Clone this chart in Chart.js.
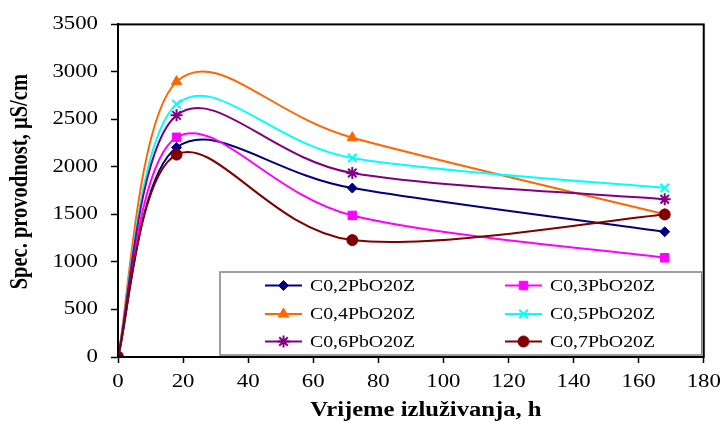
<!DOCTYPE html>
<html>
<head>
<meta charset="utf-8">
<script src="https://cdn.jsdelivr.net/npm/chart.js@4"></script>
<style>
  html, body { margin: 0; padding: 0; background: #fff; }
  #wrap { width: 726px; height: 423px; }
</style>
</head>
<body>
<div id="wrap"><canvas id="chart" width="726" height="423"></canvas></div>
<script>
const hours = [0, 18, 72, 168];
const xTicks = [0, 20, 40, 60, 80, 100, 120, 140, 160, 180];
const yTicks = [0, 500, 1000, 1500, 2000, 2500, 3000, 3500];

const seriesNames = ["C0,2PbO20Z", "C0,3PbO20Z", "C0,4PbO20Z", "C0,5PbO20Z", "C0,6PbO20Z", "C0,7PbO20Z"];
const c02 = [0, 2205, 1778, 1318];
const c03 = [0, 2312, 1490, 1044];
const c04 = [0, 2898, 2308, 1502];
const c05 = [0, 2660, 2095, 1778];
const c06 = [0, 2543, 1936, 1660];
const c07 = [0, 2130, 1230, 1500];

const xTitle = "Vrijeme izluživanja, h";
const yTitle = "Spec. provodnost, µS/cm";

const seriesValues = [c02, c03, c04, c05, c06, c07];
const colors = ["#000080", "#FF00FF", "#FF6600", "#00FFFF", "#800080", "#800000"];
const markers = ["rectRot", "rect", "triangle", "crossRot", "star", "circle"];
const markerSize = [5, 6, 6, 6, 6, 5.5];

const serif = "'Liberation Serif', 'Times New Roman', serif";
const textStretch = 1.2; // the source picture is a bit wider than tall

const datasets = seriesValues.map((vals, i) => ({
  label: seriesNames[i],
  data: vals.map((v, j) => ({ x: hours[j], y: v })),
  borderColor: colors[i],
  backgroundColor: colors[i],
  borderWidth: 2,
  pointStyle: markers[i],
  pointRadius: markerSize[i],
  pointBorderWidth: markers[i] === "crossRot" || markers[i] === "star" ? 2 : 1,
  pointBorderColor: colors[i],
  pointBackgroundColor: colors[i],
  tension: 0.4,
  order: 5 - i
}));

// Excel style smoothing: control points at 1/6 of the neighbour span
const excelSmooth = {
  id: "excelSmooth",
  beforeDatasetDraw(chart, args) {
    const meta = args.meta;
    const pts = meta.data;
    meta.dataset.updateControlPoints(chart.chartArea, "x");
    pts.forEach((p, i) => {
      const prev = pts[i - 1] || p;
      const next = pts[i + 1] || p;
      const dx = (next.x - prev.x) / 6;
      const dy = (next.y - prev.y) / 6;
      p.cp1x = p.x - dx; p.cp1y = p.y - dy;
      p.cp2x = p.x + dx; p.cp2y = p.y + dy;
    });
  }
};

// widen all text a little around its anchor
const stretchText = {
  id: "stretchText",
  beforeDraw(chart) {
    const ctx = chart.ctx;
    if (ctx._stretched) return;
    ctx._stretched = true;
    const orig = ctx.fillText.bind(ctx);
    ctx.fillText = function (text, x, y, maxWidth) {
      const m = ctx.getTransform();
      const p = m.transformPoint(new DOMPoint(x, y));
      ctx.save();
      ctx.setTransform(new DOMMatrix().translate(p.x, p.y).scale(textStretch, 1).translate(-p.x, -p.y).multiply(m));
      if (maxWidth === undefined) orig(text, x, y);
      else orig(text, x, y, maxWidth);
      ctx.restore();
    };
  }
};

// frame around the plot area + the two axis titles
const frame = {
  id: "frame",
  afterDraw(chart) {
    const a = chart.chartArea;
    const c = chart.ctx;
    c.save();
    c.strokeStyle = "#000";
    c.lineWidth = 2;
    c.strokeRect(a.left, a.top, a.right - a.left, a.bottom - a.top);

    c.fillStyle = "#000";
    c.font = "bold 20.5px " + serif;
    c.textAlign = "center";
    c.textBaseline = "middle";
    c.fillText(xTitle, (a.left + a.right) / 2 + 15, a.bottom + 54);
    c.translate(21, (a.top + a.bottom) / 2 - 9);
    c.rotate(-Math.PI / 2);
    c.fillText(yTitle, 0, 0);
    c.restore();
  }
};

// legend box in the lower right of the plot, line + marker samples
const boxLegend = {
  id: "boxLegend",
  afterDraw(chart) {
    const a = chart.chartArea;
    const c = chart.ctx;
    const left = a.left + 102, right = a.right - 2;
    const top = a.bottom - 85, bottom = a.bottom - 2;
    c.save();
    c.fillStyle = "#fff";
    c.fillRect(left, top, right - left, bottom - top);
    c.strokeStyle = "#808080";
    c.lineWidth = 1.5;
    c.strokeRect(left, top, right - left, bottom - top);
    c.font = "16.5px " + serif;
    c.textBaseline = "middle";
    c.textAlign = "left";
    const colX = [left + 45, left + 285];
    const rowY = [top + 13.5, top + 42, top + 69.5];
    chart.data.datasets.forEach((ds, i) => {
      const x0 = colX[i % 2];
      const y = rowY[Math.floor(i / 2)];
      c.strokeStyle = ds.borderColor;
      c.lineWidth = 2;
      c.beginPath();
      c.moveTo(x0, y);
      c.lineTo(x0 + 37, y);
      c.stroke();
      c.fillStyle = ds.backgroundColor;
      c.lineWidth = ds.pointBorderWidth;
      Chart.helpers.drawPoint(c, { pointStyle: ds.pointStyle, radius: ds.pointRadius, borderWidth: ds.pointBorderWidth }, x0 + 18.5, y);
      c.fillStyle = "#000";
      c.fillText(ds.label, x0 + 45, y + 1);
    });
    c.restore();
  }
};

new Chart(document.getElementById("chart"), {
  type: "line",
  data: { datasets },
  options: {
    responsive: false,
    animation: false,
    layout: { padding: { top: 24, right: 18, left: 0, bottom: 0 } },
    plugins: { legend: { display: false }, tooltip: { enabled: false } },
    scales: {
      x: {
        type: "linear",
        min: 0,
        max: 180,
        afterBuildTicks: s => { s.ticks = xTicks.map(v => ({ value: v })); },
        afterFit: s => { s.height = 66; },
        border: { color: "#000", width: 2 },
        grid: { drawOnChartArea: false, tickLength: 6, tickColor: "#000", tickWidth: 1.5 },
        ticks: { color: "#000", font: { family: serif, size: 19 }, padding: 8, maxRotation: 0, callback: v => String(v) }
      },
      y: {
        min: 0,
        max: 3500,
        afterBuildTicks: s => { s.ticks = yTicks.map(v => ({ value: v })); },
        afterFit: s => { s.width = 118; },
        border: { color: "#000", width: 2 },
        grid: { drawOnChartArea: false, tickLength: 7, tickColor: "#000", tickWidth: 1.5 },
        ticks: { color: "#000", font: { family: serif, size: 19 }, padding: 13, callback: v => String(v) }
      }
    }
  },
  plugins: [stretchText, excelSmooth, frame, boxLegend]
});
</script>
</body>
</html>
